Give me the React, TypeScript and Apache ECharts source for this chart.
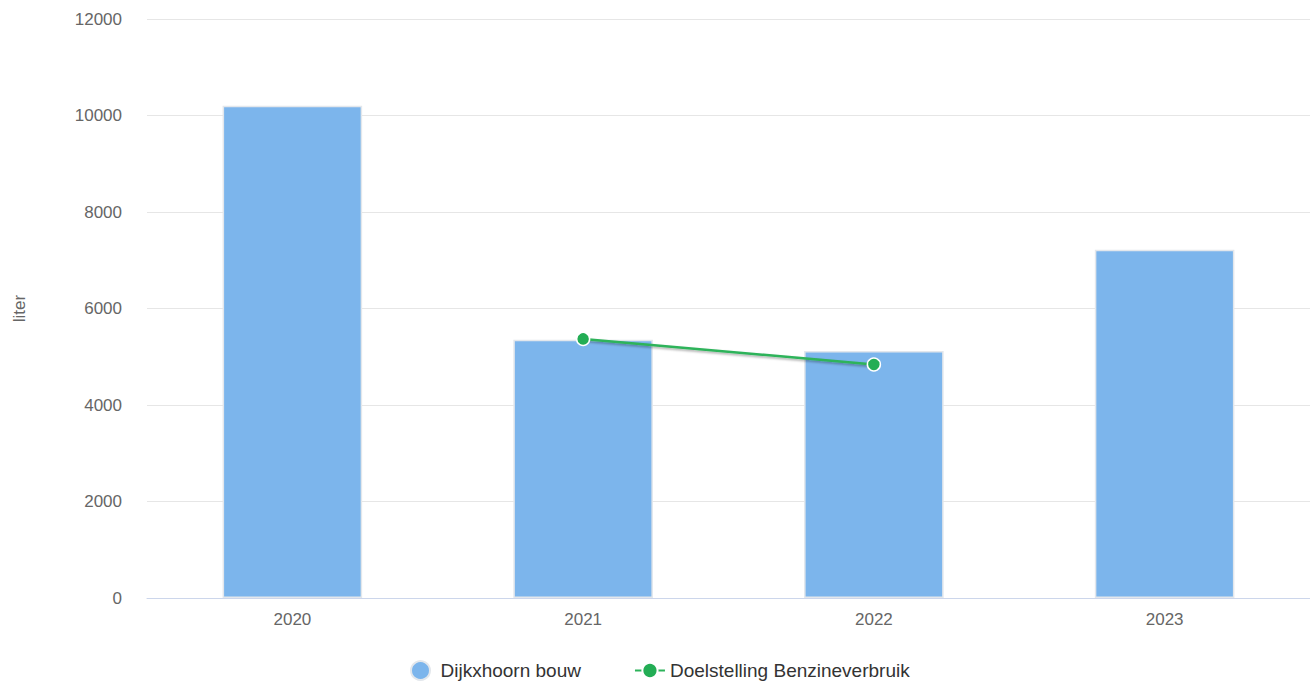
import React, { useEffect, useRef } from "react";
import * as echarts from "echarts";

const categories = ["2020", "2021", "2022", "2023"];
const barName = "Dijkxhoorn bouw";
const barValues = [10200, 5350, 5120, 7220];
const lineName = "Doelstelling Benzineverbruik";
const lineValues: (number | null)[] = [null, 5370, 4840, null];
const yTicks = { min: 0, max: 12000, interval: 2000 };

export default function App() {
  const ref = useRef<HTMLDivElement>(null);
  useEffect(() => {
    if (!ref.current) return;
    const chart = echarts.init(ref.current, undefined, { renderer: "svg" });
    const font = "'Liberation Sans', Arial, Helvetica, sans-serif";
    chart.setOption({
      animation: false,
      textStyle: { fontFamily: font },
      grid: { left: 147, right: 0, top: 19, bottom: 85, containLabel: false },
      legend: {
        top: 655,
        left: 405,
        itemGap: 53,
        itemWidth: 30,
        itemHeight: 19,
        textStyle: { fontSize: 19, color: "#333333", fontFamily: font },
        data: [
          { name: barName, icon: "circle" },
          { name: lineName },
        ],
      },
      xAxis: {
        type: "category",
        data: categories,
        axisLine: { lineStyle: { color: "#ccd6eb" } },
        axisTick: { show: false },
        axisLabel: { color: "#666666", fontSize: 17, margin: 13, fontFamily: font },
      },
      yAxis: {
        type: "value",
        min: yTicks.min,
        max: yTicks.max,
        interval: yTicks.interval,
        name: "liter",
        nameLocation: "middle",
        nameGap: 119,
        nameTextStyle: { color: "#666666", fontSize: 17, fontFamily: font },
        axisLabel: {
          color: "#666666",
          fontSize: 17,
          margin: 25,
          fontFamily: font,
          formatter: (v: number) => String(v),
        },
        splitLine: { lineStyle: { color: "#e6e6e6" } },
      },
      series: [
        {
          name: barName,
          type: "bar",
          data: barValues,
          barWidth: "48%",
          itemStyle: {
            color: "#7cb5ec",
            borderColor: "#e3e7ec",
            borderWidth: 1.5,
          },
        },
        {
          name: lineName,
          type: "line",
          data: lineValues,
          symbol: "circle",
          symbolSize: 13,
          connectNulls: false,
          lineStyle: {
            color: "#2db35a",
            width: 2.5,
            shadowColor: "rgba(0,0,0,0.35)",
            shadowBlur: 2,
            shadowOffsetY: 1.5,
          },
          itemStyle: { color: "#23ad55", borderColor: "#ffffff", borderWidth: 1.5 },
        },
      ],
    });
    return () => chart.dispose();
  }, []);
  return (
    <div
      ref={ref}
      style={{ position: "fixed", left: 0, top: 0, width: 1310, height: 683, background: "#ffffff" }}
    />
  );
}
